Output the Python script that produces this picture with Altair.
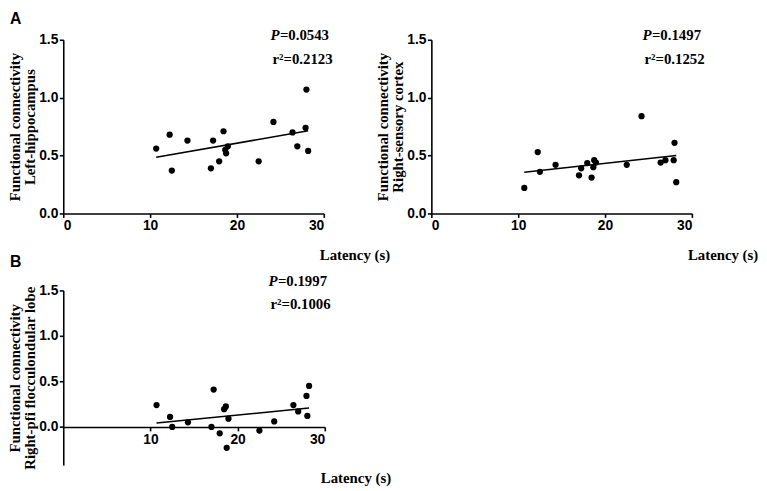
import altair as alt
import pandas as pd

# Latency (s) of each subject (shared by all panels)
latency = [10.7, 12.25, 12.5, 14.3, 17.0, 17.25, 17.95, 18.45, 18.65, 18.75,
           18.95, 22.5, 24.2, 26.4, 26.95, 27.9, 28.0, 28.2]

# Functional connectivity values
fc_left_hippocampus = [0.56, 0.68, 0.37, 0.63, 0.39, 0.63, 0.45, 0.71, 0.55, 0.52,
                       0.58, 0.45, 0.79, 0.70, 0.58, 0.74, 1.07, 0.54]
fc_right_sensory = [0.22, 0.53, 0.36, 0.42, 0.33, 0.39, 0.435, 0.31, 0.40, 0.46,
                    0.44, 0.42, 0.84, 0.44, 0.46, 0.46, 0.61, 0.27]
fc_right_pfi = [0.24, 0.11, 0.0, 0.05, 0.0, 0.41, -0.07, 0.195, 0.225, -0.23,
                0.09, -0.04, 0.06, 0.24, 0.17, 0.34, 0.12, 0.45]

y_titles = [["Functional connectivity", "Left-hippocampus"],
            ["Functional connectivity", "Right-sensory cortex"],
            ["Functional connectivity", "Right-pfi flocculondular lobe"]]
p_texts = ["=0.0543", "=0.1497", "=0.1997"]
r2_texts = ["r\u00b2=0.2123", "r\u00b2=0.1252", "r\u00b2=0.1006"]
letters = ["A", "", "B"]
y_ticks = [0, 0.5, 1.0, 1.5]

SERIF = "Liberation Serif"
SANS = "Liberation Sans"


def txt(s, x, y, font=SERIF, size=15, style="normal", align="left", baseline="alphabetic"):
    return alt.Chart(pd.DataFrame({"t": [s]})).mark_text(
        font=font, fontSize=size, fontWeight="bold", fontStyle=style,
        align=align, baseline=baseline, color="black"
    ).encode(x=alt.value(x), y=alt.value(y), text="t:N")


def panel(vals, ytitle, ptxt, r2txt, letter, letter_y, w, h, ydomain, xoffset, xvalues,
          p_y, r2_y, lat_y, p_x):
    df = pd.DataFrame({"latency": latency, "fc": vals})
    x = alt.X("latency:Q",
              scale=alt.Scale(domain=[0, 30], nice=False, zero=False),
              axis=alt.Axis(values=xvalues, format="d", title=None, offset=xoffset))
    y = alt.Y("fc:Q",
              scale=alt.Scale(domain=ydomain, nice=False, zero=False),
              axis=alt.Axis(values=y_ticks, format=".1f", title=ytitle,
                            titleLineHeight=15, titlePadding=1))
    base = alt.Chart(df)
    pts = base.mark_circle(size=40, color="black", opacity=1).encode(x=x, y=y)
    fit = base.transform_regression("latency", "fc").mark_line(
        color="black", strokeWidth=1.6).encode(x=x, y=y)
    layers = [pts, fit,
              txt("P", p_x, p_y, style="italic"),
              txt(ptxt, p_x + 9.5, p_y),
              txt(r2txt, p_x + 2, r2_y),
              txt("Latency (s)", w - 4, lat_y, baseline="middle")]
    if letter:
        layers.append(txt(letter, -54, letter_y, font=SANS, size=16))
    return alt.layer(*layers).properties(width=w, height=h)


a1 = panel(fc_left_hippocampus, y_titles[0], p_texts[0], r2_texts[0], letters[0], -16,
           264, 176, [0, 1.5], 0, [0, 10, 20, 30], 0, 25, 218, 210)
a2 = panel(fc_right_sensory, y_titles[1], p_texts[1], r2_texts[1], letters[1], -16,
           264, 176, [0, 1.5], 0, [0, 10, 20, 30], 0, 25, 218, 214)
b = panel(fc_right_pfi, y_titles[2], p_texts[2], r2_texts[2], letters[2], -24,
          265, 177, [-0.42, 1.5], -38.7, [10, 20, 30], -4, 19, 190, 208)

chart = alt.concat(a1, a2, b, columns=2, bounds="flush",
                   spacing={"row": 78, "column": 108}).properties(
    padding=0
).configure_view(stroke=None).configure_axis(
    grid=False, domainColor="black", domainWidth=1.6, tickColor="black",
    tickWidth=1.6, tickSize=4, labelColor="black", labelFont=SANS,
    labelFontSize=14, labelFontWeight="bold", labelPadding=1.5,
    titleFont=SERIF, titleFontSize=15, titleFontWeight="bold", titleColor="black"
)

chart.save("out.html", embed_options={"renderer": "svg", "actions": False})
